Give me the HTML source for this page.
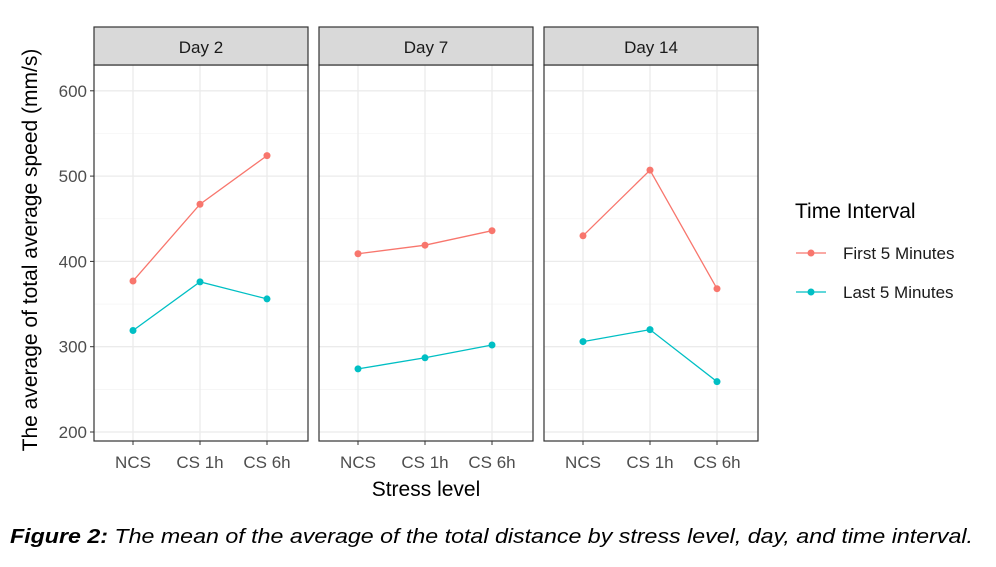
<!DOCTYPE html>
<html><head><meta charset="utf-8"><style>
body{margin:0;background:#fff;width:996px;height:562px;overflow:hidden}
svg text{font-family:"Liberation Sans",Arial,sans-serif}
</style></head><body>
<svg width="996" height="562">
<g id="plot"></g>
<text x="10" y="543" font-size="20" font-style="italic" textLength="963" lengthAdjust="spacingAndGlyphs"><tspan font-weight="bold">Figure 2:</tspan> The mean of the average of the total distance by stress level, day, and time interval.</text>
</svg>
<script>
const days = ["Day 2","Day 7","Day 14"];
const categories = ["NCS","CS 1h","CS 6h"];
const firstVals = [[377,467,524],[409,419,436],[430,507,368]];
const lastVals = [[319,376,356],[274,287,302],[306,320,259]];
const yTicks = [200,300,400,500,600];
const seriesNames = ["First 5 Minutes","Last 5 Minutes"];
const colors = ["#F8766D","#00BFC4"];

const NS="http://www.w3.org/2000/svg";
const g=document.getElementById('plot');
function el(t,a,p){const e=document.createElementNS(NS,t);for(const k in a)e.setAttribute(k,a[k]);(p||g).appendChild(e);return e;}
const y=v=>432-(v-200)*0.853;
const panelX=[94,319,544], panelW=214, plotTop=65, plotBot=441;
const xs=(p,i)=>panelX[p]+39+i*67;
days.forEach((d,p)=>{
  const pg=el('g',{});
  
  
  el('rect',{x:panelX[p],y:plotTop,width:panelW,height:plotBot-plotTop,fill:'#fff'},pg);
  for(let v=250;v<=600;v+=100){el('line',{x1:panelX[p],x2:panelX[p]+panelW,y1:y(v),y2:y(v),stroke:'#f3f3f3','stroke-width':0.7},pg);}
  yTicks.forEach(v=>el('line',{x1:panelX[p],x2:panelX[p]+panelW,y1:y(v),y2:y(v),stroke:'#ebebeb','stroke-width':1.3},pg));
  categories.forEach((c,i)=>{
    el('line',{x1:xs(p,i),x2:xs(p,i),y1:plotTop,y2:plotBot,stroke:'#ebebeb','stroke-width':1.3},pg);
    el('line',{x1:xs(p,i),x2:xs(p,i),y1:plotBot,y2:plotBot+4,stroke:'#333'},pg);
    const t=el('text',{x:xs(p,i),y:468,'font-size':17,fill:'#4d4d4d','text-anchor':'middle'},pg);t.textContent=c;
    
    
  });
  [firstVals,lastVals].forEach((s,k)=>{
    const pts=s[p].map((v,i)=>xs(p,i)+','+y(v)).join(' ');
    const l=el('polyline',{points:pts,fill:'none',stroke:colors[k],'stroke-width':1.3},pg);
    
    
    s[p].forEach((v,i)=>{const c=el('circle',{cx:xs(p,i),cy:y(v),r:3.5,fill:colors[k]},pg);
      
      });
  });
  el('rect',{x:panelX[p],y:plotTop,width:panelW,height:plotBot-plotTop,fill:'none',stroke:'#333','stroke-width':1.2},pg);
  el('rect',{x:panelX[p],y:27,width:panelW,height:38,fill:'#d9d9d9',stroke:'#333','stroke-width':1.2},pg);
  const st=el('text',{x:panelX[p]+panelW/2,y:53,'font-size':17,fill:'#1a1a1a','text-anchor':'middle'},pg);st.textContent=d;
  
  
});
yTicks.forEach(v=>{
  el('line',{x1:90,x2:94,y1:y(v),y2:y(v),stroke:'#333'});
  const t=el('text',{x:87,y:y(v)+6,'font-size':17,fill:'#4d4d4d','text-anchor':'end'});t.textContent=v;
  
  
});
let t=el('text',{x:0,y:0,'font-size':21,'text-anchor':'middle',transform:'translate(37,250) rotate(-90)'});t.textContent='The average of total average speed (mm/s)';


t=el('text',{x:426,y:496,'font-size':21,'text-anchor':'middle'});t.textContent='Stress level';


t=el('text',{x:795,y:218,'font-size':21});t.textContent='Time Interval';


seriesNames.forEach((n,k)=>{
  const yy=253+k*39;
  const lg=el('g',{});
  
  
  el('line',{x1:796,x2:826,y1:yy,y2:yy,stroke:colors[k],'stroke-width':1.3},lg);
  el('circle',{cx:811,cy:yy,r:3.5,fill:colors[k]},lg);
  const tt=el('text',{x:843,y:yy+6,'font-size':17,fill:'#1a1a1a'},lg);tt.textContent=n;
});
</script>
</body></html>
